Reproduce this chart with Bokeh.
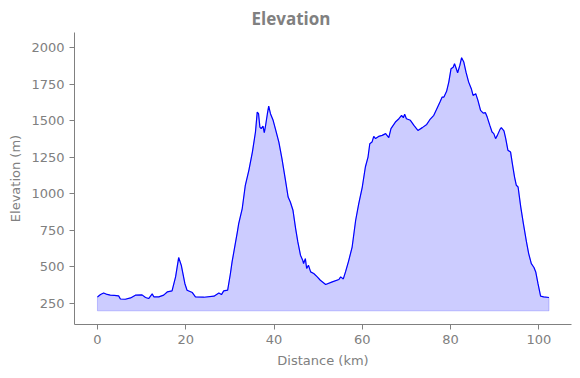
from bokeh.plotting import figure
from bokeh.models import Range1d, FixedTicker
from bokeh.embed import file_html
from bokeh.resources import INLINE

distance_km = [0.0, 0.7, 1.4, 2.2, 2.9, 3.8, 4.8, 5.2, 6.3, 7.5, 8.6, 10.1, 10.9, 11.6, 12.4, 12.8,
               13.9, 15.0, 15.8, 16.9, 17.7, 18.4, 19.0, 19.8, 20.3, 21.5, 22.2, 24.1, 26.4, 27.5,
               28.1, 28.6, 29.5, 30.1, 30.5, 31.3, 31.7, 32.0, 32.8, 33.5, 34.3, 35.1, 35.8, 36.2,
               36.5, 36.8, 37.1, 37.5, 37.8, 38.1, 38.5, 38.8, 39.2, 39.8, 40.3, 41.1, 41.8, 42.6,
               43.2, 43.7, 44.3, 44.9, 45.4, 46.0, 46.5, 46.7, 47.1, 47.4, 47.8, 48.3, 49.0, 49.8,
               50.5, 51.7, 53.2, 54.7, 55.1, 55.7, 56.2, 56.9, 57.7, 58.5, 59.2, 60.0, 60.7, 61.3,
               61.7, 62.2, 62.6, 63.0, 63.7, 64.5, 65.3, 65.6, 66.0, 66.5, 67.5, 68.3, 68.9, 69.3,
               69.6, 70.0, 70.9, 71.7, 72.6, 73.6, 74.6, 75.3, 76.2, 77.0, 77.6, 78.1, 78.5, 79.1,
               79.6, 80.1, 80.6, 80.9, 81.3, 81.6, 82.1, 82.5, 83.0, 83.5, 84.1, 84.7, 85.1, 85.7,
               86.2, 86.8, 87.4, 87.9, 88.3, 88.9, 89.4, 89.8, 90.2, 90.6, 91.2, 91.5, 92.1, 92.5,
               93.0, 93.6, 94.0, 94.5, 94.9, 95.3, 95.9, 96.5, 97.2, 97.7, 98.3, 98.9, 99.3, 99.8,
               100.4, 101.1, 102.3]
elevation_m = [295, 312, 322, 312, 307, 305, 302, 281, 279, 288, 307, 309, 291, 284, 316, 295,
               295, 307, 329, 336, 432, 564, 511, 387, 341, 325, 295, 293, 300, 322,
               311, 336, 341, 450, 534, 671, 739, 796, 899, 1058, 1160, 1285, 1422, 1558,
               1547, 1456, 1445, 1463, 1418, 1468, 1547, 1599, 1547, 1502, 1445, 1353, 1240, 1092,
               978, 944, 887, 762, 671, 580, 546, 523, 557, 489, 512, 466, 455, 432,
               409, 380, 398, 414, 432, 418, 466, 540, 636, 819, 933, 1046, 1183, 1251,
               1342, 1353, 1392, 1377, 1392, 1399, 1411, 1399, 1383, 1445, 1490, 1513, 1536, 1520,
               1543, 1513, 1502, 1467, 1433, 1452, 1474, 1506, 1536, 1588, 1627, 1661, 1661, 1700,
               1763, 1854, 1865, 1889, 1854, 1827, 1877, 1930, 1900, 1831, 1763, 1718, 1672, 1684,
               1638, 1570, 1551, 1554, 1524, 1467, 1422, 1411, 1377, 1399, 1440, 1452, 1429, 1377,
               1297, 1285, 1206, 1114, 1058, 1046, 910, 796, 671, 591, 523, 496, 466, 387,
               300, 295, 291]
fill_base = 200
x_ticks = [0, 20, 40, 60, 80, 100]
y_ticks = [250, 500, 750, 1000, 1250, 1500, 1750, 2000]

GRAY = "#808080"

p = figure(width=580, height=378, output_backend="svg", toolbar_location=None,
           x_range=Range1d(-5.2, 107.4), y_range=Range1d(106.6, 2102),
           min_border_left=74, min_border_right=9, min_border_top=32, min_border_bottom=54,
           title="Elevation")
p.outline_line_color = None
p.background_fill_color = "white"
p.border_fill_color = "white"
p.xgrid.visible = False
p.ygrid.visible = False

p.title.align = "left"
p.title.offset = 177
p.title.text_color = GRAY
p.title.text_font = "Open Sans"
p.title.text_font_style = "bold"
p.title.text_font_size = "17px"
p.title.standoff = 5

poly_x = list(distance_km) + [distance_km[-1], distance_km[0]]
poly_y = list(elevation_m) + [fill_base, fill_base]
p.patch(poly_x, poly_y, fill_color="blue", fill_alpha=0.2, line_color="blue", line_alpha=0.2, line_width=1)
p.line(distance_km, elevation_m, line_color="blue", line_width=1.2)

for ax in (p.xaxis[0], p.yaxis[0]):
    ax.axis_line_color = GRAY
    ax.major_tick_line_color = GRAY
    ax.minor_tick_line_color = None
    ax.major_tick_out = 5
    ax.major_tick_in = 0
    ax.major_label_text_color = GRAY
    ax.major_label_text_font = "DejaVu Sans"
    ax.major_label_text_font_size = "13px"
    ax.axis_label_text_color = GRAY
    ax.axis_label_text_font = "DejaVu Sans"
    ax.axis_label_text_font_size = "13px"
    ax.axis_label_text_font_style = "normal"
    ax.major_label_standoff = 5

p.xaxis.ticker = FixedTicker(ticks=x_ticks)
p.yaxis.ticker = FixedTicker(ticks=y_ticks)
p.xaxis.axis_label = "Distance (km)"
p.yaxis.axis_label = "Elevation (m)"
p.xaxis.axis_label_standoff = 6
p.yaxis.axis_label_standoff = 5

open("out.html", "w").write(file_html(p, INLINE))
